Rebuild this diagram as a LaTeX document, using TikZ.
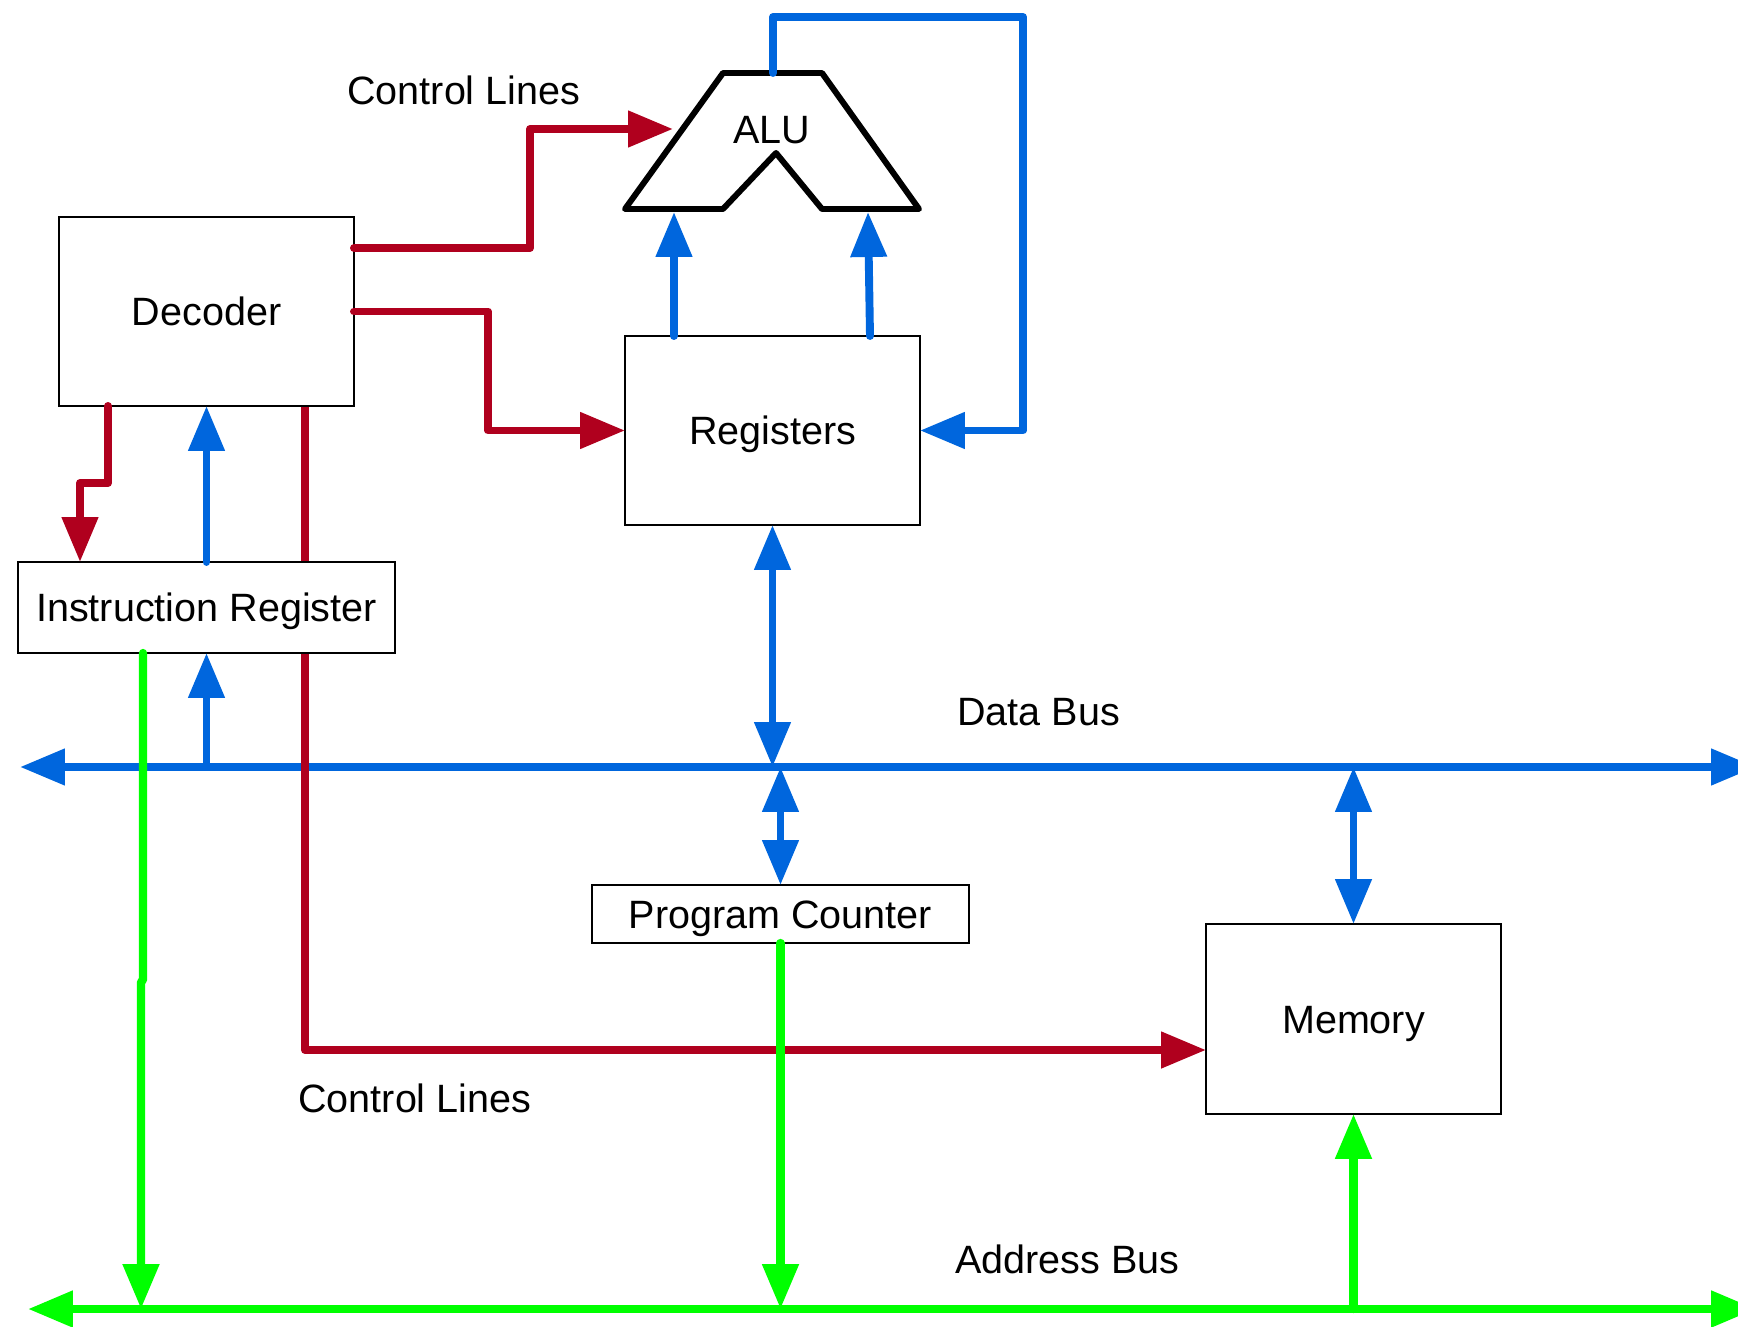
\documentclass[tikz,border=0pt]{standalone}
\usepackage{fontspec}
\setmainfont{Liberation Sans}
\usetikzlibrary{arrows.meta,backgrounds}

\definecolor{ctlred}{RGB}{176,0,30}
\definecolor{busblue}{RGB}{0,102,221}
\definecolor{addrgreen}{RGB}{0,255,0}

\begin{document}
\begin{tikzpicture}[x=0.02cm,y=-0.02cm,
        >={Triangle[length=0.9cm,width=0.7cm]},
        every node/.style={font=\fontsize{22.5}{27}\selectfont},
        box/.style={draw,line width=0.8pt,fill=white,inner sep=0pt,outer sep=0pt,
            text height=16.2pt,text depth=0pt},
        lbl/.style={anchor=base west,inner sep=0pt},
        ctl/.style={ctlred,line width=4.5pt,line cap=round,line join=round},
        data/.style={busblue,line width=4.5pt,line cap=round,line join=round},
        addr/.style={addrgreen,line width=4.7pt,line cap=round,line join=round}]
    \useasboundingbox (0,0) rectangle (1738,1327);

    % boxes
    \node[box,minimum width=5.9cm,minimum height=3.78cm] (dec) at (206.5,311.5) {Decoder};
    \node[box,minimum width=7.54cm,minimum height=1.82cm] (ir) at (206.5,607.5) {Instruction Register};
    \node[box,minimum width=5.9cm,minimum height=3.78cm] (reg) at (772.5,430.5) {Registers};
    \node[box,minimum width=7.54cm,minimum height=1.16cm] (pc) at (780.5,914) {Program Counter};
    \node[box,minimum width=5.9cm,minimum height=3.8cm] (mem) at (1353.5,1019) {Memory};

    % alu outline
    \draw[line width=3.4pt,line join=round,line cap=round]
        (625,209) -- (723,73) -- (822,73) -- (919,209) -- (822,209) -- (776,153) -- (723,209) -- cycle;
    \node (alu) at (772,130) {ALU};
    \coordinate (alutop) at (773,73);
    \coordinate (aluin) at (673,129);

    % bus ends
    \coordinate (dbw) at (20,767);
    \coordinate (dbe) at (1756,767);
    \coordinate (abw) at (28,1309);
    \coordinate (abe) at (1756,1309);

    \begin{pgfonlayer}{background}
        \draw[data,<->] (dbw) -- (dbe);
        \draw[ctl,->] (dec.south -| 305,0) -- (305,1050) -- (mem.west |- 0,1050);
    \end{pgfonlayer}

    % control lines
    \draw[ctl,->] (dec.east |- 0,248) -- (530,248) -- (530,129) -- (aluin);
    \draw[ctl,->] (dec.east) -| (488,0 |- reg.west) -- (reg.west);
    \draw[ctl,->] (dec.south -| 108,0) -- (108,483) -- (80,483) -- (80,0 |- ir.north);

    % data paths
    \draw[data,->] (ir.north) -- (dec.south);
    \draw[data,->] (ir.south |- dbw) -- (ir.south);
    \draw[data,->] (674,0 |- reg.north) -- (674,212);
    \draw[data,->] (870,0 |- reg.north) -- (868,212);
    \draw[data,<->] (reg.south) -- (reg.south |- dbw);
    \draw[data,<->] (pc.north |- dbw) -- (pc.north);
    \draw[data,<->] (mem.north |- dbw) -- (mem.north);
    \draw[data,->] (alutop) -- (773,17) -- (1023,17) -- (1023,0 |- reg.east) -- (reg.east);

    % address paths
    \draw[addr,->] (143,0 |- ir.south) -- (143,980) -- (141,982) -- (141,0 |- abw);
    \draw[addr,->] (pc.south) -- (pc.south |- abw);
    \draw[addr,->] (mem.south |- abw) -- (mem.south);
    \draw[addr,<->] (abw) -- (abe);

    % labels
    \node[lbl] (ctltop) at (347,105) {Control Lines};
    \node[lbl] (ctlbot) at (298,1112) {Control Lines};
    \node[lbl] (dbus) at (957,725) {Data Bus};
    \node[lbl] (abus) at (955,1273) {Address Bus};
\end{tikzpicture}
\end{document}
